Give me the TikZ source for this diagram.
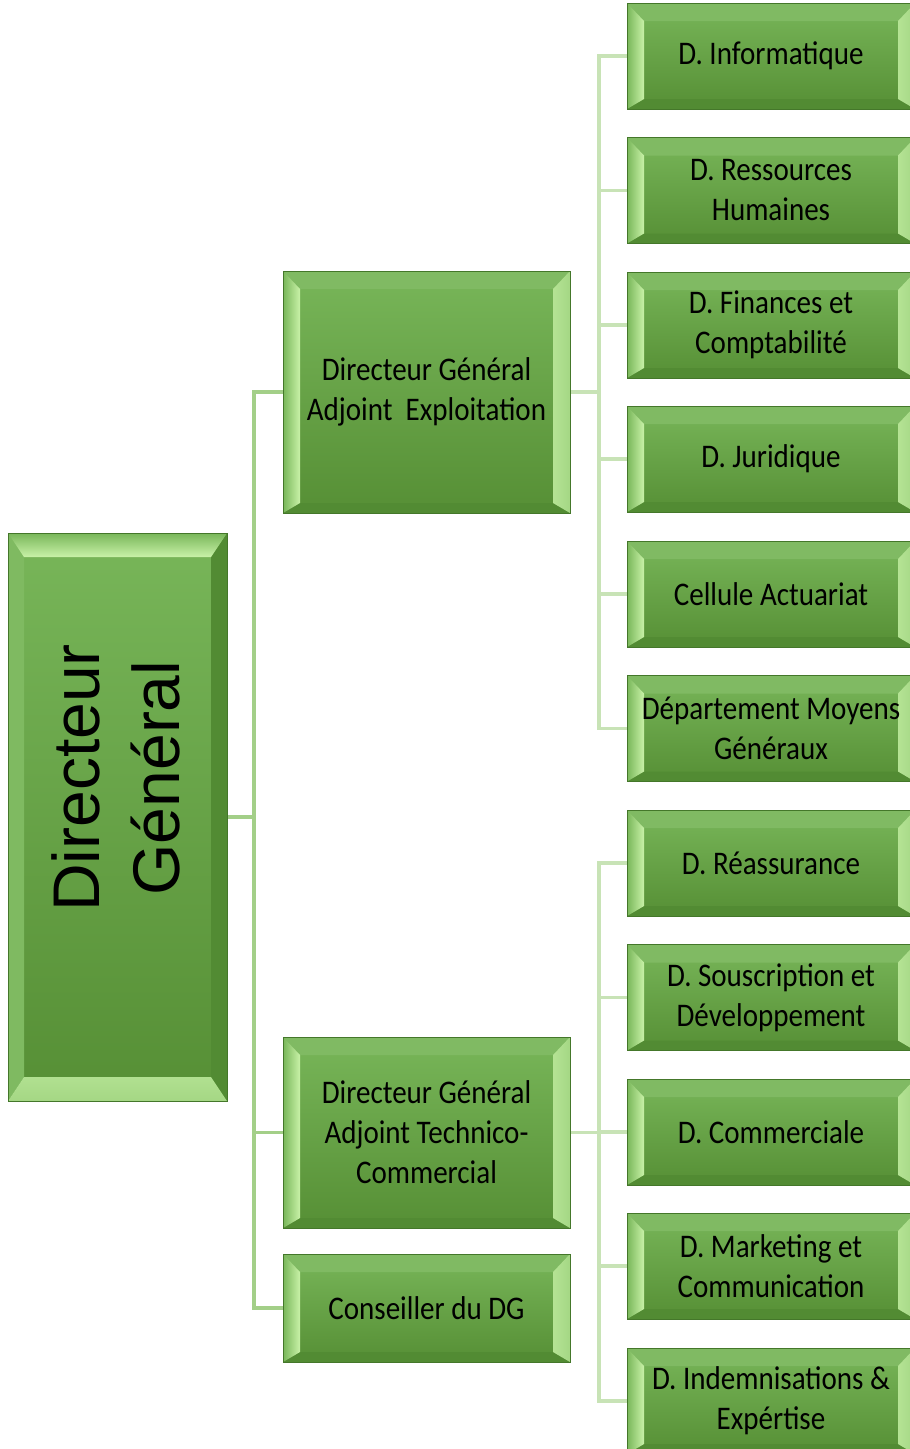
\documentclass[tikz,border=0pt]{standalone}
\usepackage{fontspec}
\usepackage{tikz}
\usetikzlibrary{calc,backgrounds}
\newfontfamily\cadreFont[FakeStretch=0.88]{Carlito}
\newfontfamily\dgFont{Liberation Sans}
\definecolor{vertHaut}{HTML}{78B659}
\definecolor{vertBas}{HTML}{568F35}
\definecolor{vertBord}{HTML}{44772A}
\definecolor{vertBiseau}{HTML}{C9F2A8}
\definecolor{vertSombre}{HTML}{528B33}
\definecolor{traitVert}{HTML}{A3CF88}
\definecolor{traitPale}{HTML}{C8E3B6}

\tikzset{
  biseauH/.style={path picture={
    \fill[vertHaut!94!white]
      (path picture bounding box.north west) -- (path picture bounding box.north east)
      -- ($(path picture bounding box.north east)+(-17pt,-18pt)$) -- ($(path picture bounding box.north west)+(17pt,-18pt)$) -- cycle;
    \fill[vertSombre]
      (path picture bounding box.south west) -- (path picture bounding box.south east)
      -- ($(path picture bounding box.south east)+(-17pt,10pt)$) -- ($(path picture bounding box.south west)+(17pt,10pt)$) -- cycle;
    \shade[left color=vertHaut,right color=vertBiseau]
      (path picture bounding box.north west) -- ($(path picture bounding box.north west)+(17pt,-18pt)$)
      -- ($(path picture bounding box.south west)+(17pt,10pt)$) -- (path picture bounding box.south west) -- cycle;
    \shade[left color=vertBiseau!75!vertHaut,right color=vertBiseau!55!vertHaut]
      (path picture bounding box.north east) -- ($(path picture bounding box.north east)+(-17pt,-18pt)$)
      -- ($(path picture bounding box.south east)+(-17pt,10pt)$) -- (path picture bounding box.south east) -- cycle;
  }},
  biseauV/.style={path picture={
    \fill[vertHaut!95!white]
      (path picture bounding box.north west) -- ($(path picture bounding box.north west)+(16pt,-24pt)$)
      -- ($(path picture bounding box.south west)+(16pt,24pt)$) -- (path picture bounding box.south west) -- cycle;
    \fill[vertSombre]
      (path picture bounding box.north east) -- ($(path picture bounding box.north east)+(-16pt,-24pt)$)
      -- ($(path picture bounding box.south east)+(-16pt,24pt)$) -- (path picture bounding box.south east) -- cycle;
    \shade[top color=vertHaut,bottom color=vertBiseau]
      (path picture bounding box.north west) -- (path picture bounding box.north east)
      -- ($(path picture bounding box.north east)+(-16pt,-24pt)$) -- ($(path picture bounding box.north west)+(16pt,-24pt)$) -- cycle;
    \shade[top color=vertBiseau!70!vertHaut,bottom color=vertBiseau!55!vertHaut]
      (path picture bounding box.south west) -- (path picture bounding box.south east)
      -- ($(path picture bounding box.south east)+(-16pt,24pt)$) -- ($(path picture bounding box.south west)+(16pt,24pt)$) -- cycle;
  }},
  cadre/.style={draw=vertBord,line width=1pt,top color=vertHaut,bottom color=vertBas,
    inner sep=0pt,align=center,text=black,font=\cadreFont\fontsize{33}{40}\selectfont,biseauH},
  cadreDroit/.style={cadre,minimum width=288pt,minimum height=106pt},
  cadreMoyen/.style={cadre,minimum width=287pt},
  lienVert/.style={traitVert,line width=3.5pt},
  lienPale/.style={traitPale,line width=3.5pt}
}

\begin{document}
\begin{tikzpicture}[x=1pt,y=-1pt]
\useasboundingbox (0,0) rectangle (910,1449);
\clip (0,0) rectangle (910,1449);
% directeur general
\node[draw=vertBord,line width=1pt,top color=vertHaut,bottom color=vertBas,biseauV,
  minimum width=219pt,minimum height=568pt] (dg) at (117.5,817) {};
\node[rotate=90,align=center,font=\dgFont\fontsize{66}{80}\selectfont] (dgTexte) at (116,778) {Directeur\\Général};
% adjoints
\node[cadreMoyen,minimum height=242pt] (dgaExp) at (426.5,392) {Directeur Général\\Adjoint\ \ Exploitation};
\node[cadreMoyen,minimum height=191pt] (dgaTC) at (426.5,1132.5) {Directeur Général\\Adjoint Technico-\\Commercial};
\node[cadreMoyen,minimum height=108pt] (conseil) at (426.5,1308) {Conseiller du DG};
% directions
\node[cadreDroit] (dInfo) at (771,56) {D. Informatique};
\node[cadreDroit] (dRH) at (771,190.5) {D. Ressources\\Humaines};
\node[cadreDroit] (dFin) at (771,325) {D. Finances et\\Comptabilité};
\node[cadreDroit] (dJur) at (771,459) {D. Juridique};
\node[cadreDroit] (cAct) at (771,594) {Cellule Actuariat};
\node[cadreDroit] (dMoy) at (771,728.5) {Département Moyens\\Généraux};
\node[cadreDroit] (dReass) at (771,863) {D. Réassurance};
\node[cadreDroit] (dSousc) at (771,997.5) {D. Souscription et\\Développement};
\node[cadreDroit] (dCom) at (771,1132) {D. Commerciale};
\node[cadreDroit] (dMkt) at (771,1266) {D. Marketing et\\Communication};
\node[cadreDroit] (dInd) at (771,1401) {D. Indemnisations \&\\Expértise};
% liaisons
\coordinate (tronc) at (254,817);
\coordinate (busExp) at (599,392);
\coordinate (busTC) at (599,1132.5);
\begin{pgfonlayer}{background}
\draw[lienVert] (dg.east) -- (tronc);
\draw[lienVert] (tronc) |- (dgaExp.west);
\draw[lienVert] (tronc) |- (dgaTC.west);
\draw[lienVert] (tronc) |- (conseil.west);
\draw[lienPale] (dgaExp.east) -- (busExp);
\draw[lienPale] (busExp) |- (dInfo.west);
\draw[lienPale] (busExp) |- (dRH.west);
\draw[lienPale] (busExp) |- (dFin.west);
\draw[lienPale] (busExp) |- (dJur.west);
\draw[lienPale] (busExp) |- (cAct.west);
\draw[lienPale] (busExp) |- (dMoy.west);
\draw[lienPale] (dgaTC.east) -- (busTC);
\draw[lienPale] (busTC) |- (dReass.west);
\draw[lienPale] (busTC) |- (dSousc.west);
\draw[lienPale] (busTC) |- (dCom.west);
\draw[lienPale] (busTC) |- (dMkt.west);
\draw[lienPale] (busTC) |- (dInd.west);
\end{pgfonlayer}
\end{tikzpicture}
\end{document}
